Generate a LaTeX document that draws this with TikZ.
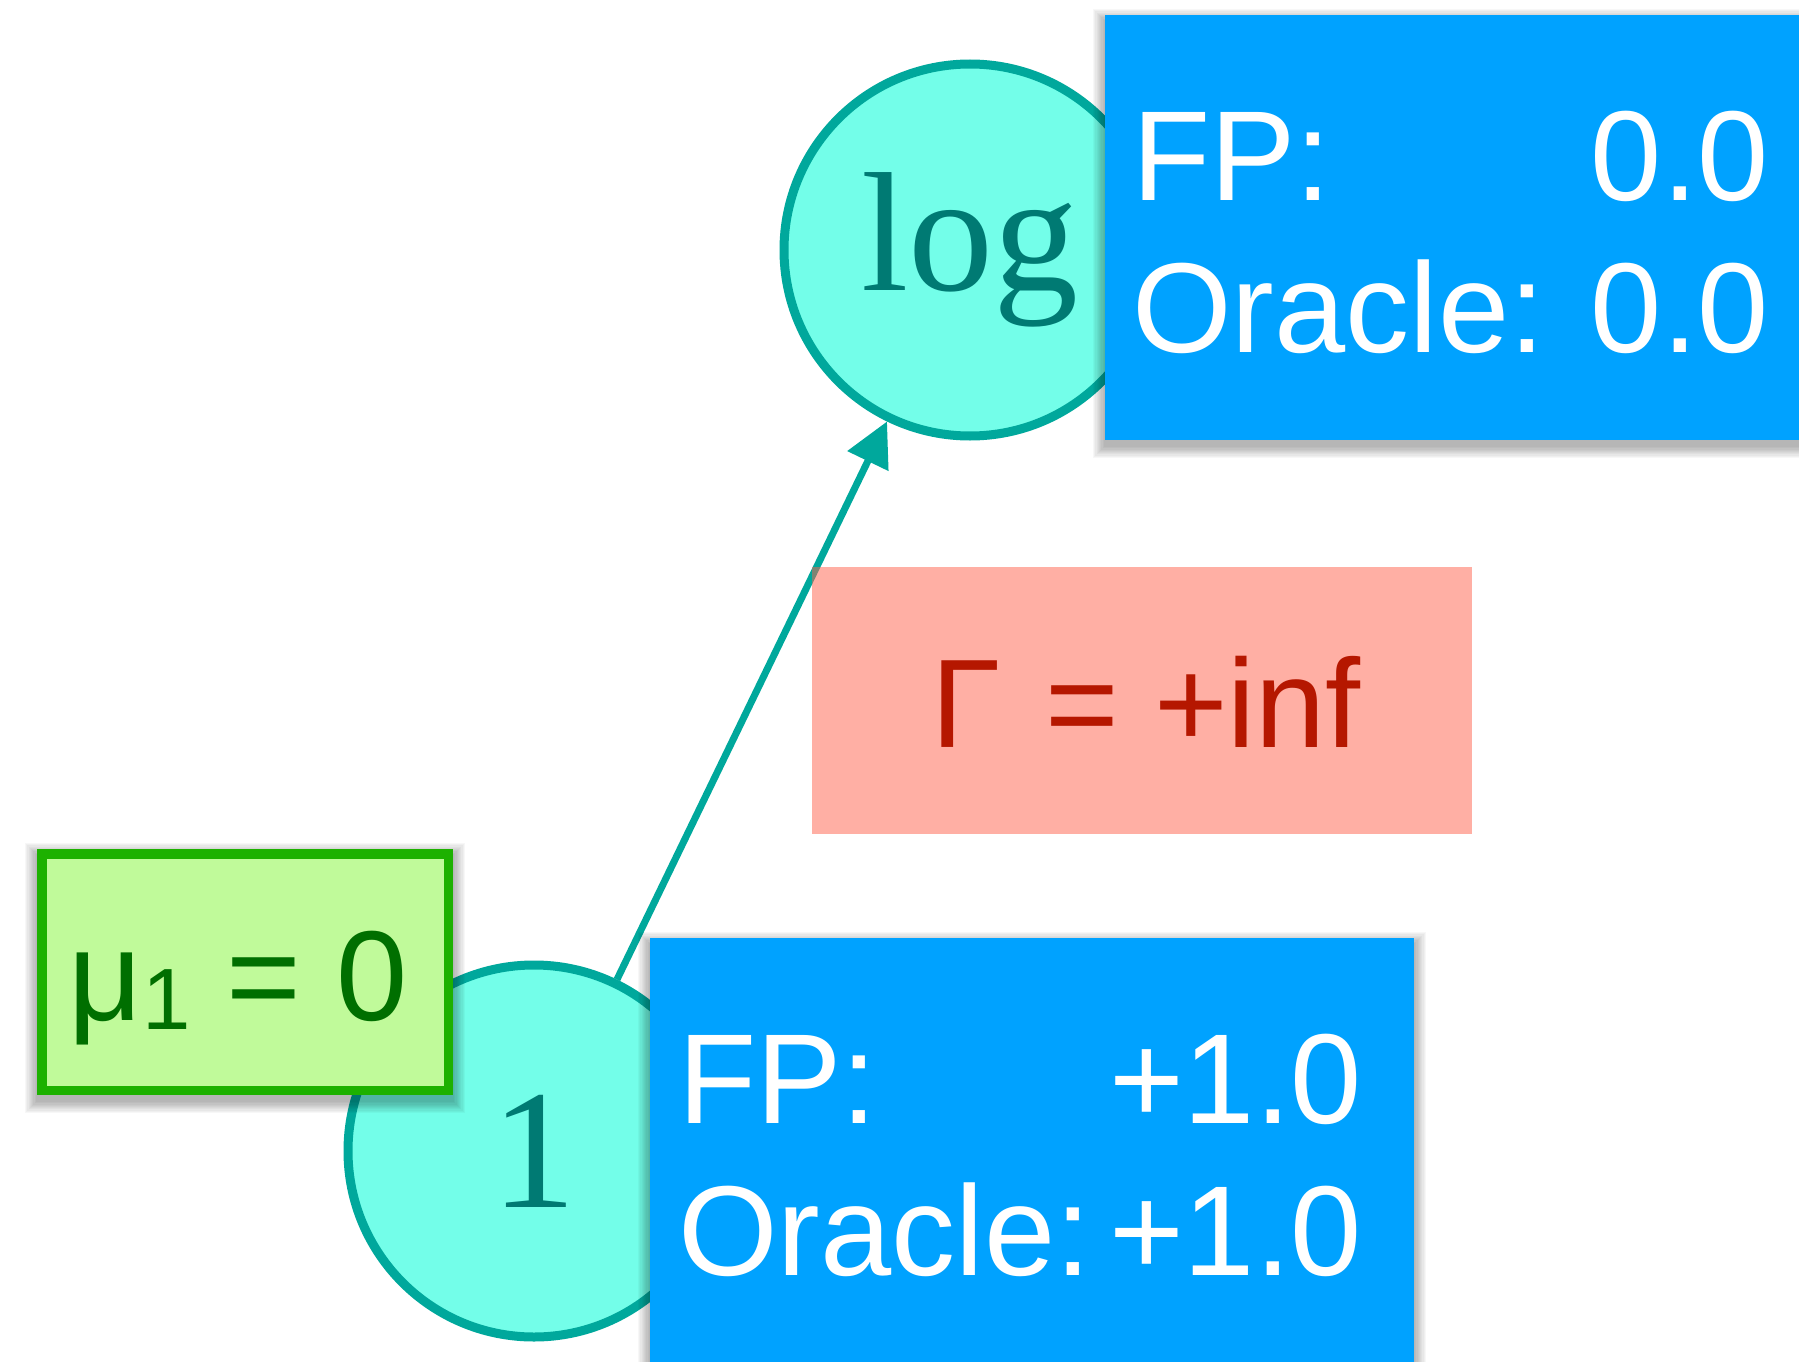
\documentclass[tikz,border=0pt]{standalone}
\usepackage{fontspec}
\setmainfont{Liberation Sans}
\newfontfamily\circfont{Liberation Serif}
\usetikzlibrary{arrows.meta}
\definecolor{circfill}{RGB}{115,254,233}
\definecolor{circline}{RGB}{0,168,156}
\definecolor{circtext}{RGB}{0,122,115}
\definecolor{boxblue}{RGB}{0,162,255}
\definecolor{redfill}{RGB}{255,97,75}
\definecolor{redtext}{RGB}{181,23,0}
\definecolor{greenline}{RGB}{29,177,0}
\definecolor{greenfill}{RGB}{192,250,154}
\definecolor{greentext}{RGB}{0,111,0}
\newcommand{\softshadow}[4]{%
  \foreach \k in {1,...,10}{%
    \fill[black, opacity=0.032] ({#1-\k*1.2},{#2-\k*1.2+6}) rectangle ({#3+\k*1.2},{#4+\k*1.2+6});
  }}
\begin{document}
\begin{tikzpicture}[x=1pt,y=-1pt,
  vertex/.style={circle, draw=circline, fill=circfill, line width=9pt, minimum size=372pt, inner sep=0pt, text=circtext, font=\circfont\fontsize{170}{170}\selectfont},
  linkarrow/.style={draw=circline, line width=7pt, -{Triangle[length=44pt,width=44pt]}},
  infobox/.style={rectangle, fill=boxblue, inner sep=0pt, anchor=north west},
  infotext/.style={text=white, inner sep=0pt, font=\fontsize{128}{128}\selectfont},
  gammabox/.style={rectangle, fill=redfill, fill opacity=0.5, inner sep=0pt},
  gammatext/.style={text=redtext, inner sep=0pt, font=\fontsize{126}{126}\selectfont},
  mubox/.style={rectangle, draw=greenline, fill=greenfill, line width=9.5pt, inner sep=0pt},
  mutext/.style={text=greentext, inner sep=0pt, font=\fontsize{128}{128}\selectfont},
]
\useasboundingbox (0,0) rectangle (1799,1362);
\clip (0,0) rectangle (1799,1362);
\fill[white] (0,0) rectangle (1799,1362);

% vertices and connector
\node[vertex] (log) at (970,250) {log};
\node[vertex] (one) at (534,1151) {1};
\draw[linkarrow] (one) -- (log);

% Gamma box (translucent, over the connector)
\node[gammabox, minimum width=660pt, minimum height=267pt] (gbox) at (1142,700.5) {};
\node[gammatext] (gamma) at (1146,702) {Γ\hspace{10pt} = +inf};

% shadows
\softshadow{1105}{15}{1845}{440}
\softshadow{650}{938}{1414}{1380}
\softshadow{37}{849}{453}{1095}

% blue info boxes
\node[infobox, minimum width=740pt, minimum height=425pt] (topbox) at (1105,15) {};
\node[infobox, minimum width=764pt, minimum height=440pt] (botbox) at (650,938) {};

% green box
\node[mubox, minimum width=406.5pt, minimum height=236.5pt] (mbox) at (245,972) {};
\node[mutext, anchor=base east] (mu) at (408,1020) {μ\raisebox{-9pt}{\fontsize{87}{87}\selectfont 1} = 0};

% texts of the top box
\node[infotext, anchor=base west] (fpa) at (1132,200) {FP:};
\node[infotext, anchor=base east] (fpav) at (1769,200) {0.0};
\node[infotext, anchor=base west] (ora) at (1132,352) {Oracle:};
\node[infotext, anchor=base east] (orav) at (1769,352) {0.0};

% texts of the bottom box
\node[infotext, anchor=base west] (fpb) at (678,1123) {FP:};
\node[infotext, anchor=base east] (fpbv) at (1362,1123) {+1.0};
\node[infotext, anchor=base west] (orb) at (678,1275) {Oracle:};
\node[infotext, anchor=base east] (orbv) at (1362,1275) {+1.0};
\end{tikzpicture}
\end{document}
